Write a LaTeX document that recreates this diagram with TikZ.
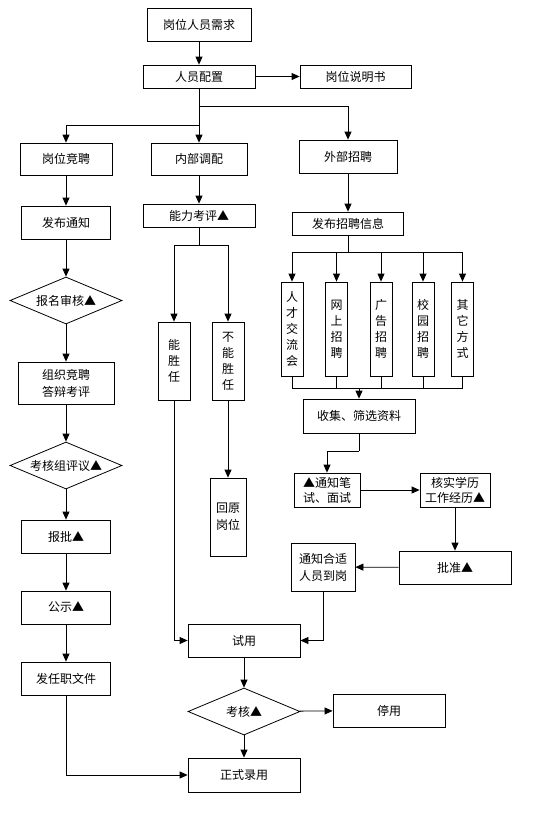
\documentclass[tikz,border=0pt]{standalone}
\usepackage{fontspec}
\setmainfont{Noto Sans CJK SC}
\usetikzlibrary{shapes.geometric,arrows.meta}
\begin{document}
\begin{tikzpicture}[x=1pt,y=-1pt,
  every node/.style={font=\fontsize{12}{17}\selectfont, inner sep=0pt, align=center},
  bx/.style={draw, line width=0.8pt, rectangle},
  dm/.style={draw, line width=0.8pt, diamond, shape aspect=2.4, minimum width=112pt, minimum height=47pt},
  vt/.style={bx, minimum width=22pt, minimum height=94pt, font=\fontsize{12}{16}\selectfont},
  ln/.style={line width=0.8pt},
  arr/.style={ln, -{Triangle[length=8pt,width=7pt]}}]
\useasboundingbox (0,0) rectangle (552,827);
% nodes
\node[bx, minimum width=104pt, minimum height=33pt] (n1) at (199,24.5) {岗位人员需求};
\node[bx, minimum width=112pt, minimum height=23pt] (n2) at (199,76.5) {人员配置};
\node[bx, minimum width=111pt, minimum height=23pt] (n3) at (355.5,76.5) {岗位说明书};
\node[bx, minimum width=92pt, minimum height=32pt] (n4) at (66,159) {岗位竞聘};
\node[bx, minimum width=96pt, minimum height=32pt] (n5) at (199,159) {内部调配};
\node[bx, minimum width=98pt, minimum height=33pt] (n6) at (348,156.5) {外部招聘};
\node[bx, minimum width=89pt, minimum height=33pt] (n7) at (66,222.5) {发布通知};
\node[bx, minimum width=112pt, minimum height=23pt] (n8) at (199,215.5) {能力考评▲};
\node[bx, minimum width=111pt, minimum height=23pt] (n9) at (348,223.5) {发布招聘信息};
\node[dm] (d1) at (66,300.5) {报名审核▲};
\node[bx, minimum width=96pt, minimum height=42pt] (n10) at (66,383) {组织竞聘\\答辩考评};
\node[bx, minimum width=32pt, minimum height=78pt, font=\fontsize{12}{16}\selectfont] (n11) at (174,361) {能\\胜\\任};
\node[bx, minimum width=32pt, minimum height=78pt, font=\fontsize{12}{16}\selectfont] (n12) at (228,361) {不\\能\\胜\\任};
\node[vt] (e1) at (292,329) {人\\才\\交\\流\\会};
\node[vt] (e2) at (336.5,329) {网\\上\\招\\聘};
\node[vt] (e3) at (381,329) {广\\告\\招\\聘};
\node[vt] (e4) at (423,329) {校\\园\\招\\聘};
\node[vt] (e5) at (462.5,329) {其\\它\\方\\式};
\node[bx, minimum width=112pt, minimum height=34pt] (n13) at (359,416) {收集、筛选资料};
\node[bx, minimum width=66pt, minimum height=34pt, font=\fontsize{12}{15}\selectfont] (n14) at (327,490) {▲通知笔\\试、面试};
\node[bx, minimum width=70pt, minimum height=34pt, font=\fontsize{12}{15}\selectfont] (n15) at (455,490) {核实学历\\工作经历▲};
\node[dm] (d2) at (66,465.5) {考核组评议▲};
\node[bx, minimum width=89pt, minimum height=33pt] (n16) at (66,536.5) {报批▲};
\node[bx, minimum width=36pt, minimum height=78pt] (n17) at (228,517) {回原\\岗位};
\node[bx, minimum width=112pt, minimum height=33pt] (n18) at (455,567.5) {批准▲};
\node[bx, minimum width=64pt, minimum height=48pt] (n19) at (323,567) {通知合适\\人员到岗};
\node[bx, minimum width=89pt, minimum height=33pt] (n20) at (66,607.5) {公示▲};
\node[bx, minimum width=112pt, minimum height=33pt] (n21) at (244,640.5) {试用};
\node[bx, minimum width=89pt, minimum height=33pt] (n22) at (66,678.5) {发任职文件};
\node[dm] (d3) at (244,711.5) {考核▲};
\node[bx, minimum width=112pt, minimum height=33pt] (n23) at (389,710.5) {停用};
\node[bx, minimum width=112pt, minimum height=34pt] (n24) at (244,775) {正式录用};
% branch points
\coordinate (b1) at (199,106);
\coordinate (b2) at (199,125);
\coordinate (b3) at (199,245);
\coordinate (b4) at (348,252);
\coordinate (b5) at (359,388);
\coordinate (b6) at (359,451);
% connectors
\draw[arr] (n1) -- (n2);
\draw[arr] (n2) -- (n3);
\draw[arr] (n2) -- (n5);
\draw[arr] (b1) -| (n6.north);
\draw[arr] (b2) -| (n4.north);
\draw[arr] (n4) -- (n7);
\draw[arr] (n7) -- (d1);
\draw[arr] (d1) -- (n10);
\draw[arr] (n10) -- (d2);
\draw[arr] (d2) -- (n16);
\draw[arr] (n16) -- (n20);
\draw[arr] (n20) -- (n22);
\draw[arr] (n22.south) |- (n24.west);
\draw[arr] (n5) -- (n8);
\draw[ln] (n8.south) -- (b3);
\draw[arr] (b3) -| (n11.north);
\draw[arr] (b3) -| (n12.north);
\draw[arr] (n11.south) |- (n21.west);
\draw[arr] (n12) -- (n17);
\draw[arr] (n6) -- (n9);
\draw[ln] (n9.south) -- (b4);
\foreach \e in {e1,e2,e3,e4,e5} {\draw[arr] (b4) -| (\e.north);}
\foreach \e in {e1,e2,e3,e4,e5} {\draw[ln] (\e.south) |- (b5);}
\draw[arr] (b5) -- (n13.north);
\draw[ln] (n13.south) -- (b6);
\draw[arr] (b6) -| (n14.north);
\draw[arr] (n14) -- (n15);
\draw[arr] (n15) -- (n18);
\draw[arr] (n18) -- (n19);
\draw[arr] (n19.south) |- (n21.east);
\draw[arr] (n21) -- (d3);
\draw[arr] (d3) -- (n23);
\draw[arr] (d3) -- (n24);
\end{tikzpicture}
\end{document}
